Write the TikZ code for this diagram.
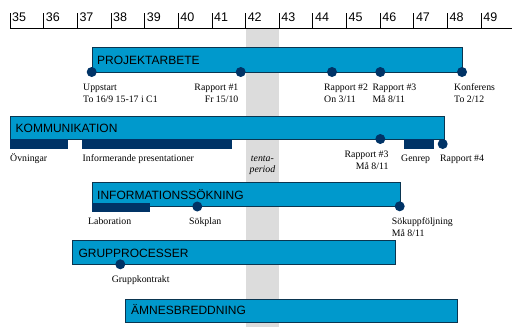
\documentclass[tikz,border=0pt]{standalone}
\usepackage{fontspec}
\setmainfont{Liberation Serif}
\newfontfamily\barfont{Liberation Sans}
\definecolor{barblue}{HTML}{0099CC}
\definecolor{barline}{HTML}{0A3550}
\definecolor{navy}{HTML}{003366}
\definecolor{band}{HTML}{DCDCDC}
\begin{document}
\begin{tikzpicture}[x=1pt,y=-1pt,
  bar/.style={draw=barline, line width=0.8pt, fill=barblue, anchor=north west, inner sep=0pt},
  subbar/.style={fill=navy, anchor=north west, inner sep=0pt, minimum height=9.5pt},
  dot/.style={circle, fill=navy, minimum size=10pt, inner sep=0pt},
  bartitle/.style={font=\barfont\fontsize{12}{14}\selectfont, inner sep=0pt, anchor=base west},
  lab/.style={font=\fontsize{9.8}{12}\selectfont, inner sep=0pt, anchor=base west},
  labr/.style={lab, anchor=base east},
  labit/.style={font=\fontsize{9.8}{12}\selectfont\itshape, inner sep=0pt, anchor=base},
  ticklab/.style={font=\barfont\fontsize{12.5}{14}\selectfont, inner sep=0pt, anchor=base west},
  axis/.style={line width=0.8pt, black}]
\useasboundingbox (0,0) rectangle (512,327);
% exam period band
\fill[band] (245.6,28) rectangle (279.2,327);
% axis
\coordinate (axL) at (10,28);
\coordinate (axR) at (512,28);
\draw[axis] (axL) -- (axR);
\foreach \w [count=\i from 0] in {35,...,49}{
  \coordinate (tb\w) at ({10+\i*33.65},28);
  \coordinate (tt\w) at ({10+\i*33.65},13);
  \draw[axis] (tb\w) -- (tt\w);
  \node[ticklab] (t\w) at ({12+\i*33.65},21.5) {\w};
}
% PROJEKTARBETE
\node[bar, minimum width=370.3pt, minimum height=25pt] (proj) at (91.7,47) {};
\node[bartitle] (projt) at (97,64) {PROJEKTARBETE};
\node[dot] (d1) at (91.7,72) {};
\node[dot] (d2) at (240.7,72) {};
\node[dot] (d3) at (332,72) {};
\node[dot] (d4) at (380.3,72) {};
\node[dot] (d5) at (462,72) {};
\node[lab] (l1a) at (83,90) {Uppstart};
\node[lab] (l1b) at (83,102) {To 16/9 15-17 i C1};
\node[labr] (l2a) at (238.5,90) {Rapport \#1};
\node[labr] (l2b) at (238.5,102) {Fr 15/10};
\node[lab] (l3a) at (324,90) {Rapport \#2};
\node[lab] (l3b) at (324,102) {On 3/11};
\node[lab] (l4a) at (372.3,90) {Rapport \#3};
\node[lab] (l4b) at (372.3,102) {Må 8/11};
\node[lab] (l5a) at (454,90) {Konferens};
\node[lab] (l5b) at (454,102) {To 2/12};
% KOMMUNIKATION
\node[bar, minimum width=433.7pt, minimum height=23.3pt] (komm) at (10,115.7) {};
\node[bartitle] (kommt) at (15.5,132.3) {KOMMUNIKATION};
\node[subbar, minimum width=57.7pt] (ovn) at (10,139) {};
\node[subbar, minimum width=150pt] (inf) at (81.7,139) {};
\node[subbar, minimum width=29.7pt] (gen) at (404,139) {};
\node[dot] (k1) at (380.3,139) {};
\node[dot] (k2) at (442.7,144) {};
\node[lab] (ovnl) at (10,161.5) {Övningar};
\node[lab] (infl) at (82.5,161.5) {Informerande presentationer};
\node[labr] (k1a) at (388.7,157.5) {Rapport \#3};
\node[labr] (k1b) at (388.7,169.5) {Må 8/11};
\node[lab] (genl) at (401,161.5) {Genrep};
\node[lab] (k2l) at (440,161.5) {Rapport \#4};
\node[labit] (tenta1) at (262.4,161.5) {tenta-};
\node[labit] (tenta2) at (262.4,172) {period};
% INFORMATIONSSÖKNING
\node[bar, minimum width=308pt, minimum height=23.7pt] (info) at (91.7,182.3) {};
\node[bartitle] (infot) at (97,199.3) {INFORMATIONSSÖKNING};
\node[subbar, minimum width=58.2pt] (lab) at (91.3,202.3) {};
\node[dot] (i1) at (197.3,206.5) {};
\node[dot] (i2) at (399.7,206.3) {};
\node[lab] (labl) at (88,224) {Laboration};
\node[lab] (i1l) at (189,224) {Sökplan};
\node[lab] (i2a) at (391.7,224.5) {Sökuppföljning};
\node[lab] (i2b) at (391.7,236.5) {Må 8/11};
% GRUPPROCESSER
\node[bar, minimum width=322.7pt, minimum height=24pt] (grupp) at (72.3,240.3) {};
\node[bartitle] (gruppt) at (78.3,257.3) {GRUPPROCESSER};
\node[dot] (g1) at (120.3,264.3) {};
\node[lab] (g1l) at (111.7,282) {Gruppkontrakt};
% ÄMNESBREDDNING
\node[bar, minimum width=332pt, minimum height=23.3pt] (amnes) at (125.3,298.7) {};
\node[bartitle] (amnest) at (131,314.7) {ÄMNESBREDDNING};
\end{tikzpicture}
\end{document}
